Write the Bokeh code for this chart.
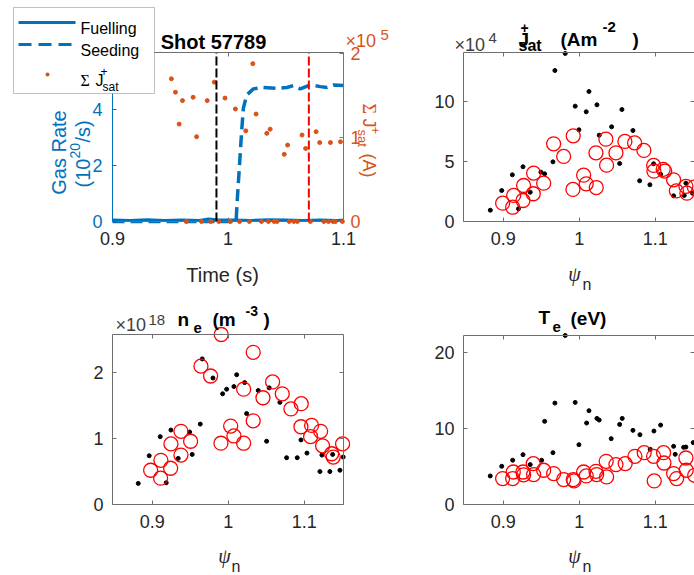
import math
from bokeh.plotting import figure
from bokeh.models import (Range1d, LinearAxis, FixedTicker, CustomJSTickFormatter, Label,
                          BoxAnnotation, Arrow)
from bokeh.layouts import row, column
from bokeh.embed import file_html
from bokeh.resources import INLINE

# ---------------- data ----------------
# Top-left: gas rates (10^20/s) and summed Jsat (10^5 A) vs time (s)
fuel_t = [0.900, 0.915, 0.930, 0.945, 0.960, 0.975, 0.983, 0.990, 1.005, 1.020, 1.035,
          1.050, 1.065, 1.080, 1.095, 1.100]
fuel_v = [0.05, 0.04, 0.06, 0.04, 0.05, 0.04, 0.09, 0.06, 0.05, 0.04, 0.06,
          0.05, 0.04, 0.05, 0.04, 0.05]
seed_t = [0.900, 1.0070, 1.0081, 1.0098, 1.0116, 1.0133, 1.0162, 1.0220, 1.0307, 1.0423,
          1.0510, 1.0568, 1.0626, 1.0713, 1.0800, 1.0858, 1.0916, 1.1000]
seed_v = [0.00, 0.00, 0.83, 1.90, 3.10, 4.05, 4.52, 4.74, 4.79, 4.76,
          4.79, 4.86, 4.74, 4.88, 4.82, 4.79, 4.88, 4.86]
sj_t = [0.951, 0.9545, 0.9577, 0.9606, 0.964, 0.9698, 0.9728, 0.977, 0.982, 0.985, 0.9881,
        0.992, 0.9974, 1.002, 1.0064, 1.010, 1.0154, 1.0185, 1.0215, 1.0243, 1.029, 1.0336,
        1.035, 1.0365, 1.040, 1.0425, 1.0487, 1.0516, 1.053, 1.057, 1.060, 1.0641, 1.0672,
        1.0713, 1.0763, 1.0794, 1.083, 1.087, 1.0887, 1.091, 1.093, 1.0974, 1.099]
sj_v = [1.70, 1.54, 1.16, 1.44, 0.0, 1.48, 1.01, 0.0, 1.44, 0.0, 1.66,
        0.0, 1.47, 0.0, 1.34, 0.0, 1.08, 0.0, 1.88, 1.28, 0.0, 1.05,
        0.0, 1.10, 0.0, 0.0, 0.80, 0.91, 0.0, 0.0, 0.0, 1.03, 0.87,
        0.0, 1.07, 0.94, 0.0, 0.0, 0.94, 0.0, 0.0, 0.95, 0.0]
t_black = 0.99
t_red = 1.07

# Top-right: Jsat (10^4 A m^-2) vs psi_n
jb_x = [0.883, 0.898, 0.912, 0.920, 0.926, 0.9355, 0.9496, 0.9545, 0.9654, 0.968, 0.9816,
        0.9947, 0.9996, 1.0092, 1.0128, 1.0233, 1.0263, 1.0426, 1.0532, 1.0562, 1.0707,
        1.0795, 1.093, 1.0979, 1.1071, 1.1242, 1.1382, 1.1404, 1.149]
jb_y = [0.94, 2.58, 3.89, 1.06, 4.56, 2.44, 4.11, 3.97, 4.97, 12.58, 14.0,
        9.61, 7.64, 9.14, 10.83, 9.72, 7.19, 7.89, 4.83, 9.33, 7.58,
        3.39, 3.06, 4.81, 3.94, 2.14, 2.17, 3.19, 2.36]
jr_x = [0.8992, 0.9124, 0.9137, 0.926, 0.9268, 0.9395, 0.940, 0.9532, 0.9663, 0.9795,
        0.9921, 0.9917, 1.0058, 1.0092, 1.022, 1.0224, 1.0351, 1.036, 1.0483, 1.0601,
        1.0729, 1.0851, 1.0979, 1.0983, 1.1105, 1.1125, 1.1242, 1.1279, 1.1404, 1.1417, 1.1515]
jr_y = [1.53, 1.19, 2.17, 1.75, 3.00, 2.31, 4.03, 3.19, 6.47, 5.42,
        7.14, 2.67, 3.86, 3.14, 5.72, 2.83, 6.86, 4.69, 5.72, 6.67,
        6.55, 5.92, 4.67, 4.19, 4.35, 4.20, 3.47, 2.55, 2.93, 2.36, 2.86]

# Bottom-left: ne (10^18 m^-3) vs psi_n
nb_x = [0.8816, 0.896, 0.9105, 0.9184, 0.9246, 0.9342, 0.9492, 0.9526, 0.9632, 0.9658,
        0.9799, 0.9926, 0.9979, 1.0075, 1.0111, 1.0216, 1.0242, 1.0395, 1.0505, 1.0539,
        1.068, 1.0768, 1.0908, 1.0957, 1.1036, 1.1207, 1.1233, 1.1338, 1.1374, 1.147, 1.1513]
nb_y = [0.32, 0.74, 1.03, 0.33, 1.13, 0.70, 1.10, 0.76, 1.22, 2.21,
        1.92, 1.68, 1.75, 1.79, 1.97, 1.85, 1.38, 1.73, 0.96, 1.77,
        1.55, 0.71, 0.71, 0.98, 0.78, 0.50, 0.75, 0.50, 0.76, 0.52, 0.72]
nr_x = [0.8979, 0.911, 0.9114, 0.9242, 0.9246, 0.9378, 0.9378, 0.9505, 0.9641, 0.9768,
        0.9908, 0.9904, 1.0032, 1.0075, 1.0203, 1.0203, 1.0329, 1.0329, 1.0457, 1.0584,
        1.0711, 1.0825, 1.0961, 1.0957, 1.1084, 1.1097, 1.1216, 1.1242, 1.1361, 1.1382, 1.1505]
nr_y = [0.52, 0.40, 0.67, 0.55, 0.92, 1.11, 0.75, 0.96, 2.10, 1.95,
        2.58, 0.93, 1.19, 1.04, 1.75, 0.93, 2.31, 1.27, 1.62, 1.86,
        1.68, 1.45, 1.53, 1.18, 1.03, 1.20, 1.11, 0.89, 0.77, 0.72, 0.92]

# Bottom-right: Te (eV) vs psi_n
tb_x = [0.8829, 0.898, 0.9124, 0.926, 0.9355, 0.9505, 0.9545, 0.9654, 0.968, 0.9816,
        0.9947, 0.9996, 1.0097, 1.0128, 1.0233, 1.0263, 1.0421, 1.0532, 1.0566, 1.0707,
        1.0799, 1.0934, 1.0983, 1.1071, 1.1242, 1.1263, 1.1374, 1.1404, 1.150]
tb_y = [3.75, 5.02, 5.81, 6.55, 5.24, 5.81, 10.92, 6.81, 13.32, 22.2,
        13.41, 7.86, 10.70, 12.32, 11.31, 11.09, 8.65, 10.52, 11.31, 9.74,
        9.17, 7.25, 9.65, 10.43, 7.64, 6.59, 7.51, 7.55, 8.13]
tr_x = [0.8992, 0.9124, 0.9132, 0.926, 0.9268, 0.9395, 0.940, 0.9532, 0.9663, 0.9795,
        0.9921, 0.993, 1.0058, 1.0092, 1.022, 1.0229, 1.0355, 1.036, 1.0483, 1.0605,
        1.0733, 1.0855, 1.0979, 1.0987, 1.111, 1.1115, 1.1242, 1.1282, 1.1404, 1.1408, 1.152]
tr_y = [3.41, 3.41, 4.27, 4.27, 3.90, 5.37, 3.93, 4.50, 4.06, 3.28,
        3.28, 3.10, 4.27, 3.75, 4.36, 3.93, 5.67, 3.62, 5.24, 5.37,
        6.33, 6.81, 6.33, 3.10, 6.81, 5.45, 4.06, 3.41, 6.11, 4.50, 3.84]

# axis limits and ticks
time_lim = (0.9, 1.1)
gas_lim = (0.0, 6.04)
sj_lim = (0.0, 2.013)
psi_lim = (0.8477, 1.1517)
jsat_lim = (0.0, 14.08)
ne_lim = (0.0, 2.58)
te_lim = (0.0, 22.2)
time_ticks = [0.9, 1.0, 1.1]
psi_ticks = [0.9, 1.0, 1.1]
gas_ticks = [0, 2, 4]
sj_ticks = [0, 1, 2]
jsat_ticks = [0, 5, 10]
ne_ticks = [0, 1, 2]
te_ticks = [0, 10, 20]

# ---------------- style / layout geometry ----------------
BLUE = "#0072BD"
ORANGE = "#D95319"
TXT = "#262626"
FRAME = "#6e6e6e"
SANS = "Liberation Sans"
SERIF = "Liberation Serif"
TOP_H, BOT_H = 296, 279
LEFT_W, RIGHT_W = 400, 294


def fmt():
    return CustomJSTickFormatter(code="return Number(tick.toFixed(3)).toString();")


def extend(lim, lo_px, box_px, hi_px):
    s = (lim[1] - lim[0]) / box_px
    return (lim[0] - lo_px * s, lim[1] + hi_px * s)


class Panel:
    def __init__(self, cx, cy, w, h, box, xlim, ylim):
        self.cx, self.cy, self.w, self.h = cx, cy, w, h
        bx0, bx1, by0, by1 = box  # left, right, top, bottom (page px)
        self.geo_x = (bx0 - cx, bx1 - bx0, cx + w - bx1)
        self.geo_y = (cy + h - by1, by1 - by0, by0 - cy)
        self.xlim, self.ylim = xlim, ylim
        p = figure(width=w, height=h,
                   x_range=Range1d(*extend(xlim, *self.geo_x)),
                   y_range=Range1d(*extend(ylim, *self.geo_y)),
                   x_axis_type=None, y_axis_type=None, output_backend="svg",
                   toolbar_location=None, min_border=0, min_border_left=0,
                   min_border_right=0, min_border_top=0, min_border_bottom=0)
        p.outline_line_color = None
        p.background_fill_color = "white"
        p.border_fill_color = "white"
        self.p = p

    def yrange(self, lim):
        return Range1d(*extend(lim, *self.geo_y))

    def axis(self, side, ticks, color=FRAME, label_color=TXT, labels=True, standoff=9,
             y_range_name=None, ylim=None, line=True):
        kw = {}
        if y_range_name:
            kw["y_range_name"] = y_range_name
        ylim = ylim or self.ylim
        if side == "below":
            loc, bounds = ylim[0], self.xlim
        elif side == "above":
            loc, bounds = ylim[1], self.xlim
        elif side == "left":
            loc, bounds = self.xlim[0], ylim
        else:
            loc, bounds = self.xlim[1], ylim
        ax = LinearAxis(ticker=FixedTicker(ticks=ticks, minor_ticks=[]),
                        formatter=fmt() if labels else CustomJSTickFormatter(code="return '';"),
                        fixed_location=loc, bounds=bounds, **kw)
        ax.axis_line_color = color if line else None
        ax.axis_line_width = 1
        ax.major_tick_line_color = color
        ax.major_tick_in = 4
        ax.major_tick_out = 0
        ax.minor_tick_line_color = None
        ax.major_label_text_font = SANS
        ax.major_label_text_font_size = "18px" if labels else "0px"
        ax.major_label_text_color = label_color
        ax.major_label_standoff = standoff if labels else 0
        self.p.add_layout(ax, side)
        return ax

    def text(self, x, y, text, size, color=TXT, font=SANS, style="normal",
             align="left", baseline="alphabetic", angle=0.0):
        self.p.add_layout(Label(x=x - self.cx, y=self.cy + self.h - y, x_units="screen",
                                y_units="screen", text=text, text_font=font,
                                text_font_size=f"{size}px", text_font_style=style,
                                text_color=color, text_align=align, text_baseline=baseline,
                                angle=angle, level="overlay"))

    def sx(self, x):
        return x - self.cx

    def sy(self, y):
        return self.cy + self.h - y


# ---------------- top-left: time traces ----------------
TL = Panel(0, 0, LEFT_W, TOP_H, (112, 343, 52, 221), time_lim, gas_lim)
tl = TL.p
tl.extra_y_ranges = {"sj": TL.yrange(sj_lim)}
TL.axis("below", time_ticks, standoff=10)
TL.axis("above", time_ticks, labels=False)
TL.axis("left", gas_ticks, color=BLUE, label_color=BLUE, standoff=10)
TL.axis("right", sj_ticks, color=ORANGE, label_color=ORANGE, standoff=7,
        y_range_name="sj", ylim=sj_lim)

tl.line(fuel_t, fuel_v, line_color=BLUE, line_width=3)
tl.line(seed_t, seed_v, line_color=BLUE, line_width=3.5, line_dash="12 6")
tl.scatter(sj_t, sj_v, y_range_name="sj", size=4, color=ORANGE, marker="circle")
tl.segment(x0=t_black, y0=gas_lim[0], x1=t_black, y1=gas_lim[1], line_color="black",
           line_width=2, line_dash="9 3")
tl.segment(x0=t_red, y0=gas_lim[0], x1=t_red, y1=gas_lim[1], line_color="#FF0000",
           line_width=2, line_dash="9 3")

TL.text(213, 41, "Shot 57789", 20, color="black", style="bold", align="center")
TL.text(222, 274, "Time (s)", 20, align="center")
# left axis label
TL.text(58, 152, "Gas Rate", 20, color=BLUE, align="center", angle=math.pi / 2)
TL.text(82, 187, "(10", 20, color=BLUE, angle=math.pi / 2)
TL.text(74, 158, "20", 14, color=BLUE, angle=math.pi / 2)
TL.text(82, 142, "/s)", 20, color=BLUE, angle=math.pi / 2)
# right axis label
TL.text(368, 103, "\u03a3", 18, color=ORANGE, font=SERIF, angle=-math.pi / 2)
TL.text(368, 118, "J", 18, color=ORANGE, angle=-math.pi / 2)
TL.text(375, 126, "+", 13, color=ORANGE, angle=-math.pi / 2)
TL.text(362, 129, "sat", 13, color=ORANGE, angle=-math.pi / 2)
TL.text(368, 153, "(A)", 18, color=ORANGE, angle=-math.pi / 2)
# exponent
TL.text(345, 40, "\u00d710", 18, color=ORANGE)
TL.text(380, 34, "5", 15, color=ORANGE)

# legend (drawn by hand)
tl.add_layout(BoxAnnotation(left=TL.sx(13), right=TL.sx(154), top=TL.sy(7), bottom=TL.sy(93),
                            left_units="screen", right_units="screen", top_units="screen",
                            bottom_units="screen", fill_color="white", fill_alpha=1.0,
                            line_color="#333333", line_width=1, level="overlay"))
tl.add_layout(Arrow(start=None, end=None, x_start=TL.sx(18), y_start=TL.sy(22),
                    x_end=TL.sx(75), y_end=TL.sy(22), start_units="screen",
                    end_units="screen", line_color=BLUE, line_width=3, level="overlay"))
tl.add_layout(Arrow(start=None, end=None, x_start=TL.sx(18), y_start=TL.sy(44),
                    x_end=TL.sx(75), y_end=TL.sy(44), start_units="screen",
                    end_units="screen", line_color=BLUE, line_width=3, line_dash="13 7",
                    level="overlay"))
tl.add_layout(BoxAnnotation(left=TL.sx(45), right=TL.sx(49), top=TL.sy(72), bottom=TL.sy(76),
                            left_units="screen", right_units="screen", top_units="screen",
                            bottom_units="screen", fill_color=ORANGE, fill_alpha=1.0,
                            line_color=None, border_radius=2, level="overlay"))
TL.text(80, 28, "Fuelling", 16, color="black")
TL.text(80, 50, "Seeding", 16, color="black")
TL.text(80, 80, "\u03a3", 16, color="black", font=SERIF)
TL.text(95, 80, "J", 16, color="black")
TL.text(100, 71, "+", 12, color="black")
TL.text(102, 86, "sat", 12, color="black")

# ---------------- top-right: Jsat ----------------
TR = Panel(LEFT_W, 0, RIGHT_W, TOP_H, (463, 694, 52, 221), psi_lim, jsat_lim)
tr = TR.p
TR.axis("below", psi_ticks, standoff=10)
TR.axis("above", psi_ticks, labels=False)
TR.axis("left", jsat_ticks)
TR.axis("right", jsat_ticks, labels=False, line=False)
tr.scatter(jb_x, jb_y, size=4, color="black", marker="circle")
tr.scatter(jr_x, jr_y, size=14, fill_color=None, line_color="#FF0000", line_width=1.3,
           marker="circle")
TR.text(454, 44, "\u00d710", 18, color="#404040")
TR.text(488, 37, "4", 15, color="#404040")
TR.text(518, 39, "J", 19, color="black", style="bold")
TR.text(520, 27, "+", 14, color="black", style="bold")
TR.text(518, 45, "sat", 16, color="black", style="bold")
TR.text(560, 39, "(Am", 19, color="black", style="bold")
TR.text(602, 26, "-2", 15, color="black", style="bold")
TR.text(632, 39, ")", 19, color="black", style="bold")
TR.text(574, 273, "\u03c8", 20, font=SERIF, style="italic", align="center")
TR.text(582, 284, "n", 16)

# ---------------- bottom-left: ne ----------------
BL = Panel(0, TOP_H, LEFT_W, BOT_H, (112, 343, 334, 504), psi_lim, ne_lim)
bl = BL.p
BL.axis("below", psi_ticks, standoff=10)
BL.axis("above", psi_ticks, labels=False)
BL.axis("left", ne_ticks)
BL.axis("right", ne_ticks, labels=False)
bl.scatter(nb_x, nb_y, size=4, color="black", marker="circle")
bl.scatter(nr_x, nr_y, size=14, fill_color=None, line_color="#FF0000", line_width=1.3,
           marker="circle")
BL.text(115, 324, "\u00d710", 18, color="#404040")
BL.text(148, 319, "18", 15, color="#404040")
BL.text(177, 319, "n", 19, color="black", style="bold")
BL.text(193, 327, "e", 15, color="black", style="bold")
BL.text(212, 319, "(m", 19, color="black", style="bold")
BL.text(245, 310, "-3", 14, color="black", style="bold")
BL.text(263, 319, ")", 19, color="black", style="bold")
BL.text(224, 555, "\u03c8", 20, font=SERIF, style="italic", align="center")
BL.text(231, 566, "n", 16)

# ---------------- bottom-right: Te ----------------
BR = Panel(LEFT_W, TOP_H, RIGHT_W, BOT_H, (463, 694, 335, 504), psi_lim, te_lim)
br = BR.p
BR.axis("below", psi_ticks, standoff=10)
BR.axis("above", psi_ticks, labels=False)
BR.axis("left", te_ticks)
BR.axis("right", te_ticks, labels=False, line=False)
br.scatter(tb_x, tb_y, size=4, color="black", marker="circle")
br.scatter(tr_x, tr_y, size=14, fill_color=None, line_color="#FF0000", line_width=1.3,
           marker="circle")
BR.text(538, 317, "T", 19, color="black", style="bold")
BR.text(552, 326, "e", 15, color="black", style="bold")
BR.text(570, 318, "(eV)", 19, color="black", style="bold")
BR.text(574, 555, "\u03c8", 20, font=SERIF, style="italic", align="center")
BR.text(582, 566, "n", 16)

layout = column(row(tl, tr, spacing=0), row(bl, br, spacing=0), spacing=0)

with open("out.html", "w") as f:
    f.write(file_html(layout, INLINE))
